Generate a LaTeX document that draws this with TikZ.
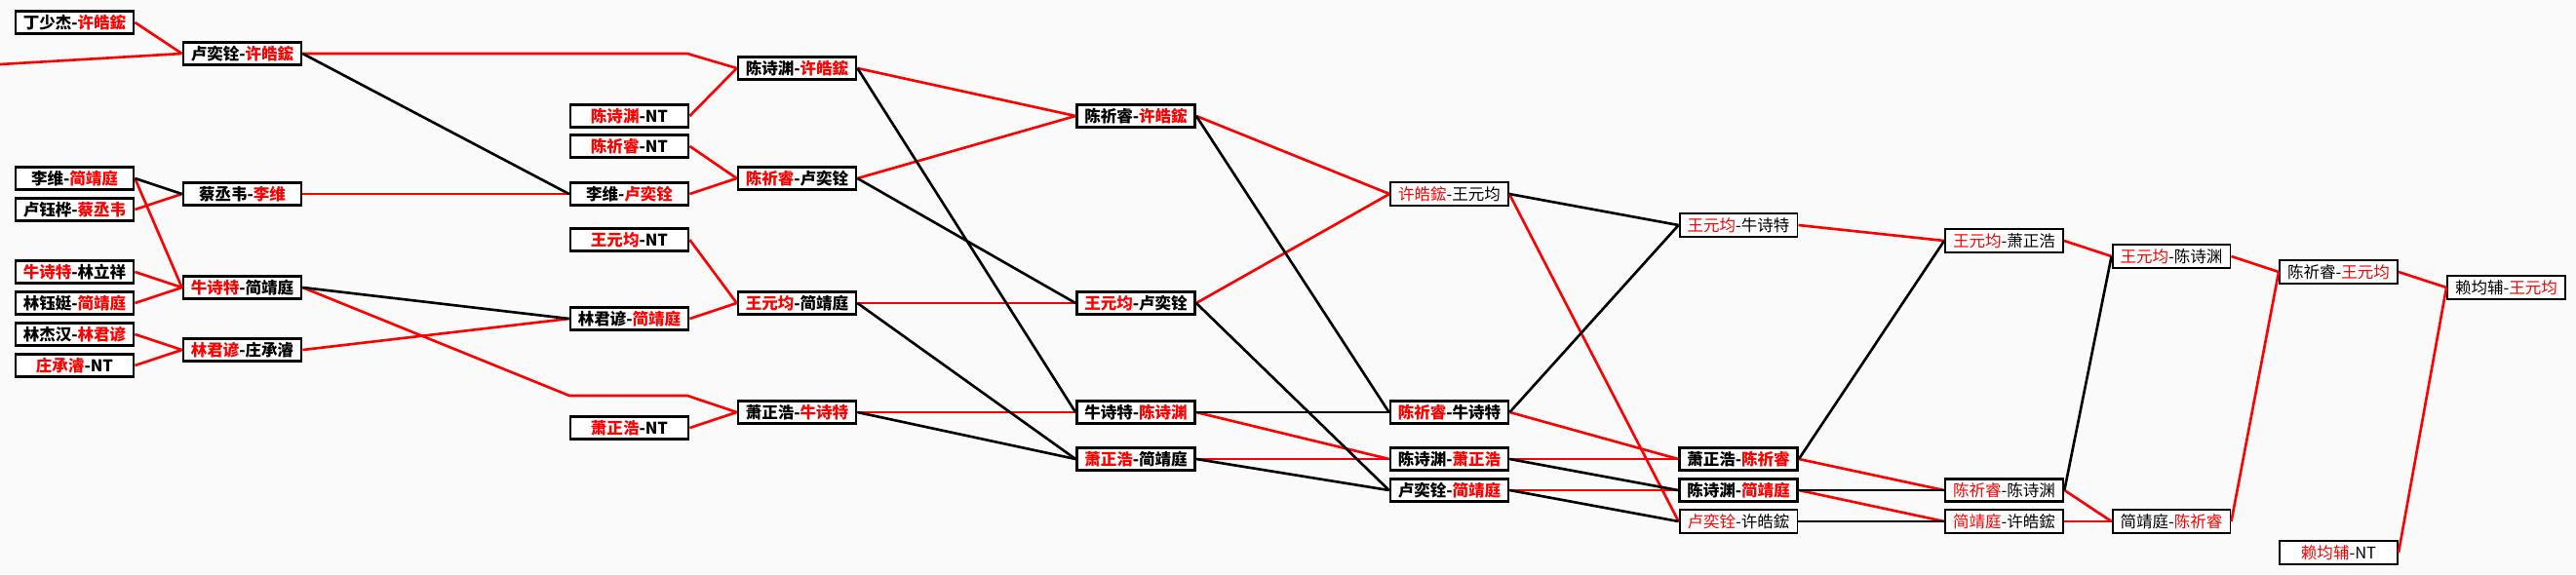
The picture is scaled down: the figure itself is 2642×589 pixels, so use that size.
\documentclass[tikz,border=0pt]{standalone}
\usepackage{fontspec}
\newfontfamily\cjk{Noto Sans CJK SC}
\usepackage{tikz}
\newcommand{\rname}[1]{\textcolor{red}{#1}}

\begin{document}
\begin{tikzpicture}[x=0.02cm, y=-0.02cm]
    \tikzset{
        match/.style={draw, line width=1.6pt, fill=white, minimum width=2.42cm, minimum height=0.47cm, inner sep=0pt, font=\cjk\bfseries\fontsize{9.4}{10}\selectfont},
        lmatch/.style={match, line width=1.1pt, font=\cjk\fontsize{9.4}{10}\selectfont},
        win/.style={red, line width=1.5pt},
        lose/.style={black, line width=1.5pt}
    }
    \fill[black!2] (0,0) rectangle (2642,589);
    \useasboundingbox (0,0) rectangle (2642,589);

    % column 1
    \node[match] (a1) at (76.5, 23) {丁少杰-\rname{许皓鋐}};
    \node[match] (a2) at (76.5, 183) {李维-\rname{简靖庭}};
    \node[match] (a3) at (76.5, 215) {卢钰桦-\rname{蔡丞韦}};
    \node[match] (a4) at (76.5, 279) {\rname{牛诗特}-林立祥};
    \node[match] (a5) at (76.5, 311) {林钰娗-\rname{简靖庭}};
    \node[match] (a6) at (76.5, 343) {林杰汉-\rname{林君谚}};
    \node[match] (a7) at (76.5, 375) {\rname{庄承濬}-NT};

    % column 2
    \node[match] (b1) at (248.5, 55) {卢奕铨-\rname{许皓鋐}};
    \node[match] (b2) at (248.5, 199) {蔡丞韦-\rname{李维}};
    \node[match] (b3) at (248.5, 295) {\rname{牛诗特}-简靖庭};
    \node[match] (b4) at (248.5, 359) {\rname{林君谚}-庄承濬};

    % column 3
    \node[match] (c1) at (645.5, 119) {\rname{陈诗渊}-NT};
    \node[match] (c2) at (645.5, 150) {\rname{陈祈睿}-NT};
    \node[match] (c3) at (645.5, 199) {李维-\rname{卢奕铨}};
    \node[match] (c4) at (645.5, 246) {\rname{王元均}-NT};
    \node[match] (c5) at (645.5, 327) {林君谚-\rname{简靖庭}};
    \node[match] (c6) at (645.5, 439) {\rname{萧正浩}-NT};

    % column 4
    \node[match] (d1) at (817.5, 70) {陈诗渊-\rname{许皓鋐}};
    \node[match] (d2) at (817.5, 183) {\rname{陈祈睿}-卢奕铨};
    \node[match] (d3) at (817.5, 311) {\rname{王元均}-简靖庭};
    \node[match] (d4) at (817.5, 423) {萧正浩-\rname{牛诗特}};

    % column 5
    \node[match] (e1) at (1165, 119) {陈祈睿-\rname{许皓鋐}};
    \node[match] (e2) at (1165, 311) {\rname{王元均}-卢奕铨};
    \node[match] (e3) at (1165, 423) {牛诗特-\rname{陈诗渊}};
    \node[match] (e4) at (1165, 471) {\rname{萧正浩}-简靖庭};

    % column 6
    \node[lmatch] (f1) at (1486.5, 199) {\rname{许皓鋐}-王元均};
    \node[match] (f2) at (1486.5, 423) {\rname{陈祈睿}-牛诗特};
    \node[match] (f3) at (1486.5, 471) {陈诗渊-\rname{萧正浩}};
    \node[match] (f4) at (1486.5, 503) {卢奕铨-\rname{简靖庭}};

    % column 7
    \node[lmatch] (g1) at (1783, 231) {\rname{王元均}-牛诗特};
    \node[match] (g2) at (1783, 471) {萧正浩-\rname{陈祈睿}};
    \node[match] (g3) at (1783, 503) {陈诗渊-\rname{简靖庭}};
    \node[lmatch] (g4) at (1783, 535) {\rname{卢奕铨}-许皓鋐};

    % column 8
    \node[lmatch] (h1) at (2055.5, 247) {\rname{王元均}-萧正浩};
    \node[lmatch, line width=1.5pt] (h2) at (2055.5, 503) {\rname{陈祈睿}-陈诗渊};
    \node[lmatch] (h3) at (2055.5, 535) {\rname{简靖庭}-许皓鋐};

    % column 9
    \node[lmatch] (i1) at (2227, 263) {\rname{王元均}-陈诗渊};
    \node[lmatch] (i2) at (2227, 535) {简靖庭-\rname{陈祈睿}};

    % column 10
    \node[lmatch] (j1) at (2398.5, 279) {陈祈睿-\rname{王元均}};
    \node[lmatch] (j2) at (2398.5, 567) {\rname{赖均辅}-NT};

    % final
    \node[lmatch] (k1) at (2570.5, 295) {赖均辅-\rname{王元均}};

    % bends and the loose end
    \coordinate (in0) at (0, 66);
    \coordinate (byA) at (705, 55);
    \coordinate (byB1) at (584, 406);
    \coordinate (byB2) at (705, 406);

    % red lines
    \draw[win] (in0) -- (b1.west);
    \draw[win] (a1.east) -- (b1.west);
    \draw[win] (a3.east) -- (b2.west);
    \draw[win] (a2.east) -- (b3.west);
    \draw[win] (a4.east) -- (b3.west);
    \draw[win] (a5.east) -- (b3.west);
    \draw[win] (a6.east) -- (b4.west);
    \draw[win] (a7.east) -- (b4.west);
    \draw[win] (b1.east) -- (byA) -- (d1.west);
    \draw[win] (b2.east) -- (c3.west);
    \draw[win] (b3.east) -- (byB1) -- (byB2) -- (d4.west);
    \draw[win] (b4.east) -- (c5.west);
    \draw[win] (c1.east) -- (d1.west);
    \draw[win] (c2.east) -- (d2.west);
    \draw[win] (c3.east) -- (d2.west);
    \draw[win] (c4.east) -- (d3.west);
    \draw[win] (c5.east) -- (d3.west);
    \draw[win] (c6.east) -- (d4.west);
    \draw[win] (d1.east) -- (e1.west);
    \draw[win] (d2.east) -- (e1.west);
    \draw[win] (d3.east) -- (e2.west);
    \draw[win] (d4.east) -- (e3.west);
    \draw[win] (e1.east) -- (f1.west);
    \draw[win] (e2.east) -- (f1.west);
    \draw[win] (e3.east) -- (f3.west);
    \draw[win] (e4.east) -- (f3.west);
    \draw[win] (f1.east) -- (g4.west);
    \draw[win] (f2.east) -- (g2.west);
    \draw[win] (f3.east) -- (g2.west);
    \draw[win] (f4.east) -- (g3.west);
    \draw[win] (g1.east) -- (h1.west);
    \draw[win] (g2.east) -- (h2.west);
    \draw[win] (g3.east) -- (h3.west);
    \draw[win] (h1.east) -- (i1.west);
    \draw[win] (h2.east) -- (i2.west);
    \draw[win] (h3.east) -- (i2.west);
    \draw[win] (i1.east) -- (j1.west);
    \draw[win] (i2.east) -- (j1.west);
    \draw[win] (j1.east) -- (k1.west);
    \draw[win] (j2.east) -- (k1.west);

    % black lines
    \draw[lose] (a2.east) -- (b2.west);
    \draw[lose] (b1.east) -- (c3.west);
    \draw[lose] (b3.east) -- (c5.west);
    \draw[lose] (d1.east) -- (e3.west);
    \draw[lose] (d2.east) -- (e2.west);
    \draw[lose] (d3.east) -- (e4.west);
    \draw[lose] (d4.east) -- (e4.west);
    \draw[lose] (e1.east) -- (f2.west);
    \draw[lose] (e3.east) -- (f2.west);
    \draw[lose] (e2.east) -- (f4.west);
    \draw[lose] (e4.east) -- (f4.west);
    \draw[lose] (f1.east) -- (g1.west);
    \draw[lose] (f2.east) -- (g1.west);
    \draw[lose] (f3.east) -- (g3.west);
    \draw[lose] (f4.east) -- (g4.west);
    \draw[lose] (g2.east) -- (h1.west);
    \draw[lose] (g3.east) -- (h2.west);
    \draw[lose] (g4.east) -- (h3.west);
    \draw[lose] (h2.east) -- (i1.west);
\end{tikzpicture}
\end{document}
